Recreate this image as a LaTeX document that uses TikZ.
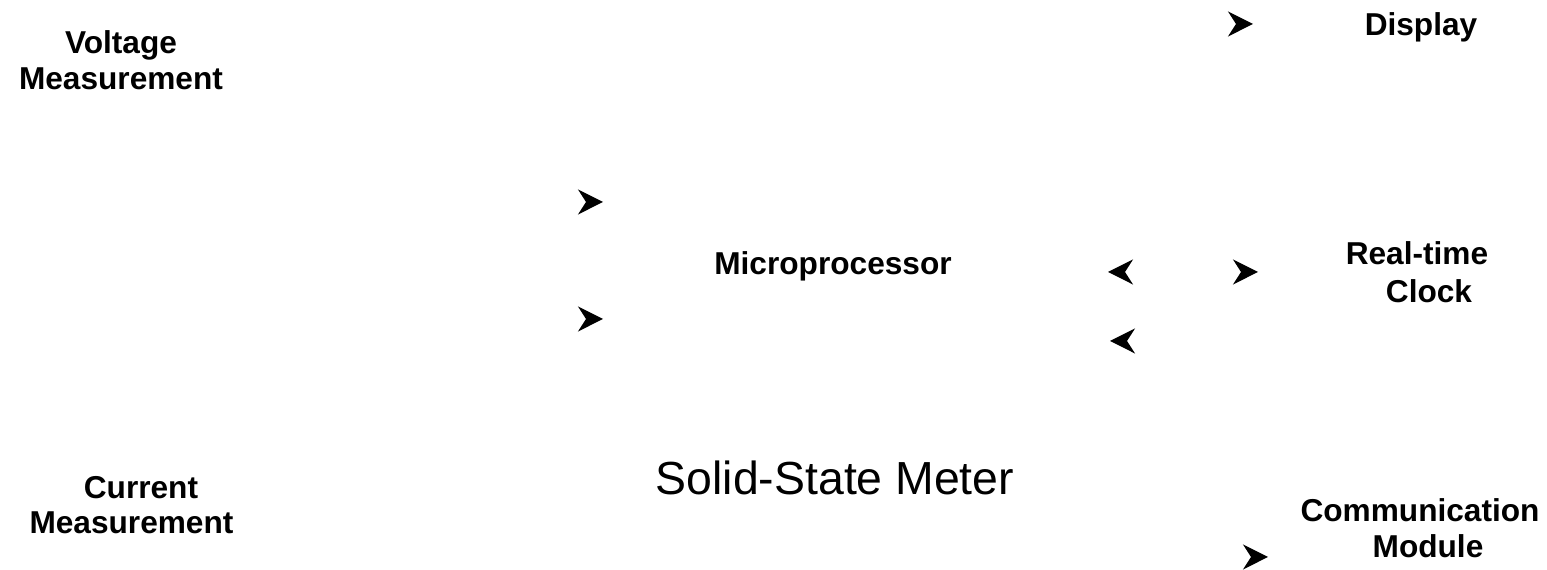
\documentclass[tikz,border=0pt]{standalone}
\usepackage{fontspec}
\setmainfont{Liberation Sans}
\usepackage{tikz}
\usetikzlibrary{arrows.meta,positioning,backgrounds}
\definecolor{mtink}{HTML}{000000}

\tikzset{
  lbl/.style={font=\fontsize{9}{#1}\selectfont\bfseries,text=mtink,align=center,inner sep=0pt,anchor=base},
  lbl/.default=9.4,
  link/.style={draw=white,-{Stealth[length=0.25cm,width=0.25cm,inset=0.08cm,color=mtink]}},
  duallink/.style={draw=white,{Stealth[length=0.25cm,width=0.25cm,inset=0.08cm,color=mtink]}-{Stealth[length=0.25cm,width=0.25cm,inset=0.08cm,color=mtink]}}
}

\begin{document}
\begin{tikzpicture}[x=1cm,y=1cm]
  \useasboundingbox (0,0) rectangle (15.47,5.70);
  % blocks
  \node[lbl=10.5] (volt) at (1.21,4.80) {Voltage\\Measurement};
  \node[lbl=9.96] (curr) at (1.315,0.367) {\hspace*{0.19cm}Current\\Measurement};
  \node[lbl] (micro) at (8.33,2.95) {Microprocessor};
  \node[lbl] (disp) at (14.21,5.34) {Display};
  \node[lbl=11] (clock) at (14.17,2.67) {Real-time\\\hspace*{0.24cm}Clock};
  \node[lbl=10.3] (comm) at (14.20,0.12) {Communication\\\hspace*{0.16cm}Module};
  \node[font=\fontsize{13.2}{15}\selectfont,text=mtink,inner sep=0pt,anchor=base] (meter) at (8.35,0.75) {Solid-State Meter};
  % arrow ends
  \coordinate (vin) at (6.03,3.68);
  \coordinate (cin) at (6.03,2.51);
  \coordinate (dspin) at (12.53,5.46);
  \coordinate (mcR) at (11.08,2.98);
  \coordinate (ckL) at (12.58,2.98);
  \coordinate (ckback) at (11.10,2.29);
  \coordinate (cmin) at (12.68,0.13);
  \begin{scope}[on background layer]
    \draw[link] (volt.east |- vin) -- (vin);
    \draw[link] (curr.east |- cin) -- (cin);
    \draw[link] (micro |- dspin) -- (dspin);
    \draw[duallink] (mcR) -- (ckL);
    \draw[link] (clock |- ckback) -- (ckback);
    \draw[link] (micro |- cmin) -- (cmin);
  \end{scope}
\end{tikzpicture}
\end{document}
